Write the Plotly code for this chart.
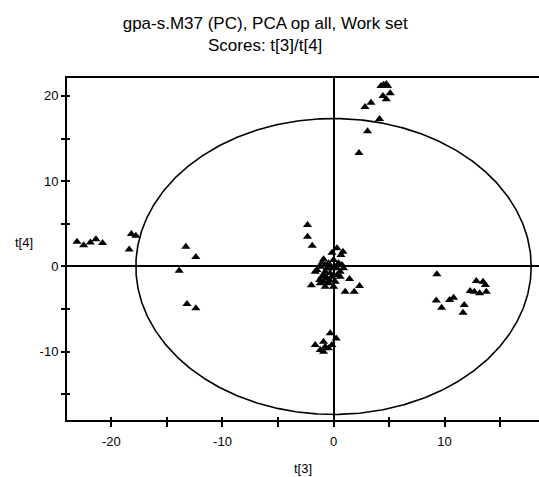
import plotly.graph_objects as go
import numpy as np

# Scores t[3] / t[4]
t3 = [
    # top-right group
    4.27, 4.5, 4.75, 4.87, 4.45, 4.75, 5.1, 3.37, 2.83, 4.14, 3.06, 2.29,
    # far-left group
    -23.1, -22.5, -21.9, -21.4, -20.8,
    -18.2, -17.8, -18.4, -13.3, -12.4, -13.9, -13.2, -12.4,
    # right group
    9.3, 12.86, 13.46, 13.67, 12.3, 12.67, 13.15, 13.75, 9.25, 9.73, 10.45, 10.81, 11.77, 11.66,
    # centre group
    -2.34, -2.34, -1.92, -0.14, 0.31, 0.85, 0.67, -0.90, -1.05, -1.50, -1.65, -1.20,
    -0.75, -0.45, 0.0, 0.45, 0.76, 0.90, 0.60, 0.31, -0.14, -0.59, -0.90, -1.20,
    -0.45, 0.15, -0.30, -0.75, -1.05, -0.14, 0.31, -0.59, -0.90, -0.36, 0.0, 1.44,
    2.34, 1.05, 1.86, -2.0, 0.60, -1.26, -0.75,
    # bottom group
    -0.3, 0.24, -1.65, -0.9, -0.75, -1.2, -0.15, -0.45, -0.9,
]
t4 = [
    21.17, 21.3, 21.4, 21.17, 20.0, 19.6, 20.3, 19.2, 18.7, 17.3, 15.86, 13.3,
    2.9, 2.5, 2.8, 3.2, 2.75,
    3.8, 3.6, 2.0, 2.3, 1.1, -0.5, -4.4, -4.9,
    -0.9, -1.7, -1.78, -2.17, -2.87, -2.96, -3.15, -2.96, -4.0, -4.83, -3.93, -3.66, -4.52, -5.42,
    4.87, 3.50, 2.44, 1.62, 2.13, 1.74, 1.35, 0.84, 0.45, -0.41, -0.61, -0.02,
    0.18, 0.38, 0.76, 0.38, 0.18, -0.21, -0.61, -1.0, -1.2, -1.38, -1.78, -1.97,
    -1.97, -1.78, -0.80, -0.61, -1.2, -0.21, -0.21, -0.21, -1.0, -1.58, -2.37, -1.47,
    -2.29, -2.95, -2.95, -2.2, -1.2, -1.58, -2.37,
    -7.84, -8.43, -9.2, -8.82, -9.4, -9.8, -9.2, -9.6, -10.0,
]

# Hotelling T2 ellipse semi-axes
ell_a = 17.8
ell_b = 17.35

x_ticks = [-20, -15, -10, -5, 0, 5, 10, 15]
x_tick_text = ["-20", "", "-10", "", "0", "", "10", ""]
y_ticks = [-15, -10, -5, 0, 5, 10, 15, 20]
y_tick_text = ["", "-10", "", "0", "", "10", "", "20"]

x_range = [-24.0, 18.5]
y_range = [-18.0, 22.1]

theta = np.linspace(0, 2 * np.pi, 721)
ex = ell_a * np.cos(theta)
ey = ell_b * np.sin(theta)

FONT = "Arial, Liberation Sans, sans-serif"

fig = go.Figure()
fig.add_trace(go.Scatter(x=ex, y=ey, mode="lines",
                         line=dict(color="black", width=1.6),
                         hoverinfo="skip", showlegend=False))
fig.add_trace(go.Scatter(x=t3, y=t4, mode="markers",
                         marker=dict(symbol="triangle-up", size=8, color="black",
                                     line=dict(width=0)),
                         showlegend=False))
# helper trace for overlay axes (inside ticks)
fig.add_trace(go.Scatter(x=[None], y=[None], xaxis="x2", yaxis="y2",
                         showlegend=False, hoverinfo="skip"))

fig.update_layout(
    width=539, height=477,
    margin=dict(l=67, r=0, t=78, b=57),
    paper_bgcolor="white", plot_bgcolor="white",
    font=dict(family=FONT, color="black", size=13),
    title=dict(text="gpa-s.M37 (PC), PCA op all, Work set<br>Scores: t[3]/t[4]",
               x=0.492, xanchor="center", y=0.94, yanchor="top",
               font=dict(family=FONT, size=17, color="black")),
    xaxis=dict(range=x_range, tickvals=x_ticks, ticktext=x_tick_text,
               ticks="outside", ticklen=5, tickwidth=1.5, tickcolor="black",
               ticklabelstandoff=3,
               showline=True, linewidth=2, linecolor="black", mirror=True,
               showgrid=False, zeroline=True, zerolinecolor="black", zerolinewidth=1.6,
               title=dict(text="t[3]", font=dict(size=13), standoff=16),
               tickfont=dict(size=13)),
    yaxis=dict(range=y_range, tickvals=y_ticks, ticktext=y_tick_text,
               ticks="outside", ticklen=4, tickwidth=1.5, tickcolor="black",
               showline=True, linewidth=2, linecolor="black", mirror=False,
               showgrid=False, zeroline=True, zerolinecolor="black", zerolinewidth=1.6,
               tickfont=dict(size=13)),
    xaxis2=dict(overlaying="x", matches="x", range=x_range, tickvals=x_ticks,
                ticks="inside", ticklen=3, tickwidth=1.5, tickcolor="black",
                showticklabels=False, showline=False, showgrid=False, zeroline=False,
                side="bottom", anchor="y2"),
    yaxis2=dict(overlaying="y", matches="y", range=y_range, tickvals=y_ticks,
                ticks="inside", ticklen=3, tickwidth=1.5, tickcolor="black",
                showticklabels=False, showline=False, showgrid=False, zeroline=False,
                side="left", anchor="x2"),
    annotations=[dict(text="t[4]", xref="paper", yref="paper",
                      x=(24 - 67) / 472, y=(420 - 242) / 342,
                      xanchor="center", yanchor="middle", showarrow=False,
                      font=dict(family=FONT, size=13, color="black"))],
)

fig.write_html("out.html")
